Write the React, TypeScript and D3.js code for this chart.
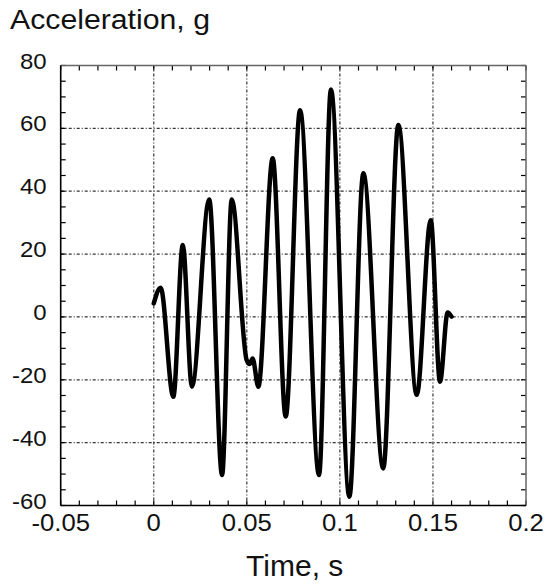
import React from "react";
import * as d3 from "d3";

const timeValues = [0, 0.0037, 0.0105, 0.0156, 0.0205, 0.0298, 0.0367, 0.0419, 0.0499, 0.0515, 0.0531, 0.0562, 0.0639, 0.0709, 0.0786, 0.0888, 0.0952, 0.1051, 0.1126, 0.1233, 0.1314, 0.1413, 0.1488, 0.1538, 0.1579, 0.16];
const accelValues = [4.3, 9.3, -25.4, 22.9, -22.2, 37.4, -50.3, 37.4, -13.7, -15, -13.2, -22.2, 50.5, -31.7, 65.8, -50.3, 72.4, -57.2, 45.7, -48.2, 61.1, -24.8, 30.8, -20.6, 1.4, 0.1];

const xTicks = [-0.05, 0, 0.05, 0.1, 0.15, 0.2];
const xTickLabels = ["-0.05", "0", "0.05", "0.1", "0.15", "0.2"];
const yTicks = [80, 60, 40, 20, 0, -20, -40, -60];
const yTickLabels = ["80", "60", "40", "20", "0", "-20", "-40", "-60"];
const xGrid = [0, 0.05, 0.1, 0.15];
const yGrid = [60, 40, 20, 0, -20, -40];

const W = 547;
const H = 588;
const left = 60.7, right = 526, top = 65.5, bottom = 505.5;
const FONT = "'Liberation Sans', Arial, sans-serif";

export default function App() {
  const x = d3.scaleLinear().domain([-0.05, 0.2]).range([left, right]);
  const y = d3.scaleLinear().domain([-60, 80]).range([bottom, top]);
  const data = timeValues.map((t, i) => [t, accelValues[i]] as [number, number]);
  const line = d3.line<[number, number]>().x(d => x(d[0])).y(d => y(d[1])).curve(d3.curveMonotoneX);
  const xMinor = d3.range(-0.05, 0.2001, 0.01);
  const yMinor = d3.range(-60, 80.001, 5);
  const tl = 5;
  return (
    <svg width={W} height={H} style={{ position: "absolute", left: 0, top: 0, background: "#fff" }}>
      <rect x={0} y={0} width={W} height={H} fill="#fff" />
      {xGrid.map(v => (
        <line key={"xg" + v} x1={x(v)} x2={x(v)} y1={top} y2={bottom} stroke="#333" strokeWidth={1.2} strokeDasharray="3,2,1,2" />
      ))}
      {yGrid.map(v => (
        <line key={"yg" + v} x1={left} x2={right} y1={y(v)} y2={y(v)} stroke="#333" strokeWidth={1.2} strokeDasharray="3,2,1,2" />
      ))}
      {xMinor.map((v, i) => (
        <g key={"xm" + i}>
          <line x1={x(v)} x2={x(v)} y1={bottom} y2={bottom - tl} stroke="#000" strokeWidth={1.2} />
          <line x1={x(v)} x2={x(v)} y1={top} y2={top + tl} stroke="#000" strokeWidth={1.2} />
        </g>
      ))}
      {yMinor.map((v, i) => (
        <g key={"ym" + i}>
          <line x1={left} x2={left + tl} y1={y(v)} y2={y(v)} stroke="#000" strokeWidth={1.2} />
          <line x1={right} x2={right - tl} y1={y(v)} y2={y(v)} stroke="#000" strokeWidth={1.2} />
        </g>
      ))}
      <line x1={left} x2={right} y1={top} y2={top} stroke="#666" strokeWidth={1.5} />
      <line x1={right} x2={right} y1={top} y2={bottom} stroke="#666" strokeWidth={1.5} />
      <line x1={left} x2={left} y1={top} y2={bottom} stroke="#000" strokeWidth={1.6} />
      <line x1={left} x2={right} y1={bottom} y2={bottom} stroke="#000" strokeWidth={1.6} />
      <path d={line(data) || ""} fill="none" stroke="#000" strokeWidth={4.5} strokeLinejoin="round" strokeLinecap="round" />
      {xTicks.map((v, i) => (
        <text key={"xl" + i} transform={`translate(${x(v)},531) scale(1.07,1)`} textAnchor="middle" fontFamily={FONT} fontSize={24} fill="#111">
          {xTickLabels[i]}
        </text>
      ))}
      {yTicks.map((v, i) => (
        <text key={"yl" + i} transform={`translate(46.7,${y(v) + 3}) scale(1.09,1)`} textAnchor="end" fontFamily={FONT} fontSize={22} fill="#111">
          {yTickLabels[i]}
        </text>
      ))}
      <text transform="translate(10,29) scale(1.1,1)" fontFamily={FONT} fontSize={27.5} fill="#111">Acceleration, g</text>
      <text x={294.7} y={576} textAnchor="middle" fontFamily={FONT} fontSize={30} fill="#111">Time, s</text>
    </svg>
  );
}
